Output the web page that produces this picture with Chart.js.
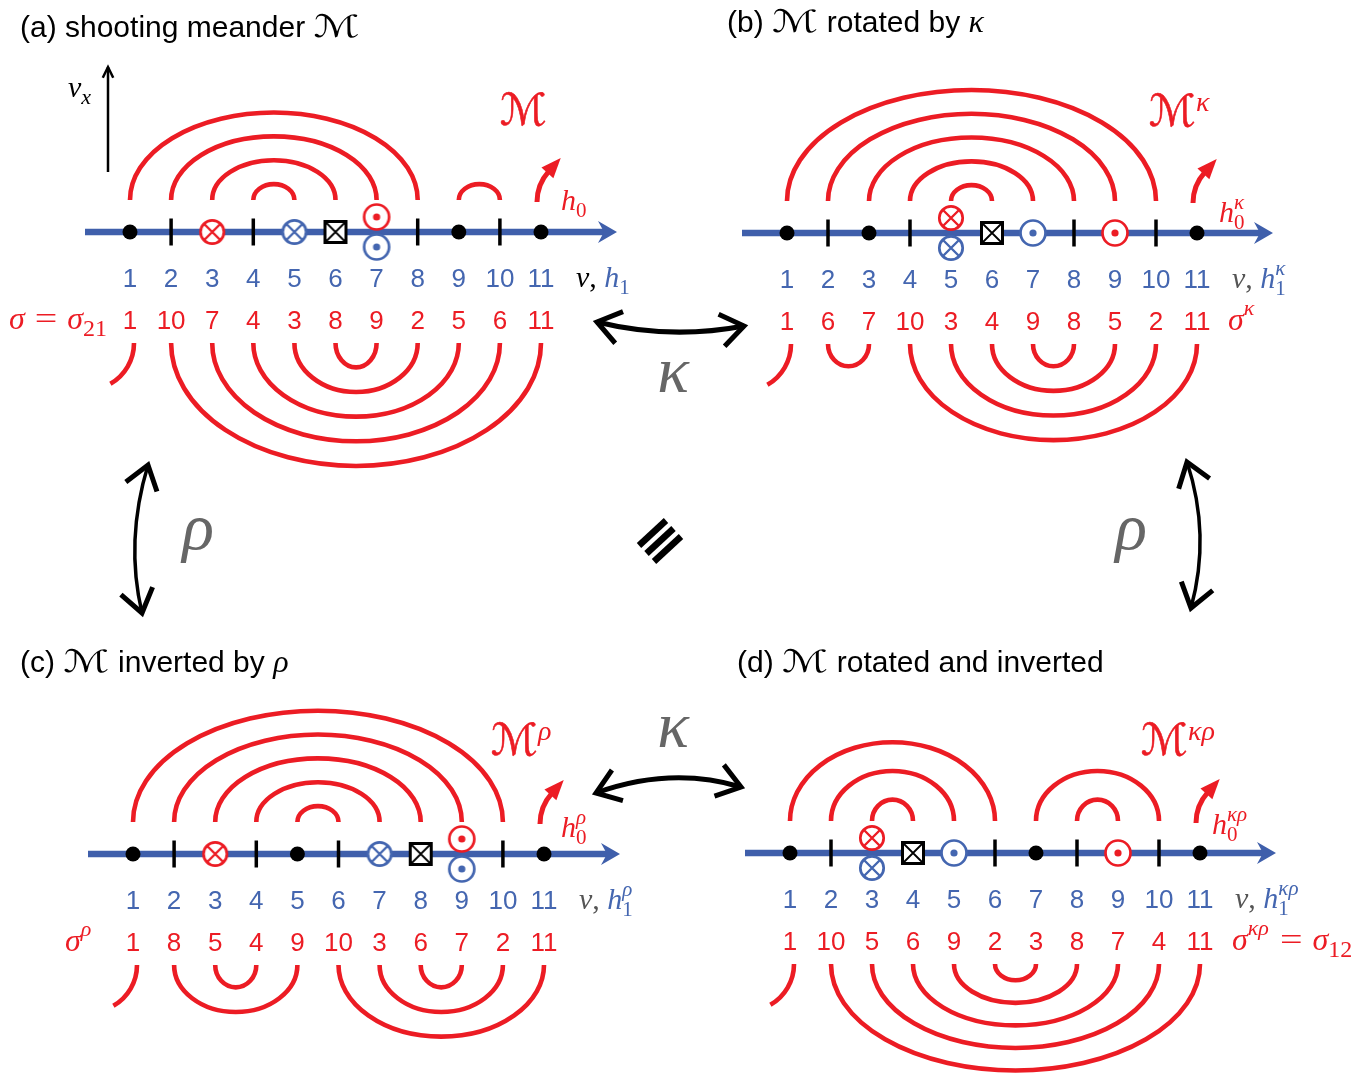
<!DOCTYPE html>
<html>
<head>
<meta charset="utf-8">
<script src="https://cdn.jsdelivr.net/npm/chart.js@4.4.1/dist/chart.umd.min.js"></script>
<style>
  html, body { margin: 0; padding: 0; background: #fff; }
  #wrap { width: 1364px; height: 1073px; }
</style>
</head>
<body>
<div id="wrap"><canvas id="meander" width="1364" height="1073"></canvas></div>
<script>
// ---- data: the four meanders (positions along the axis are 1..11) ----
const positions = [1, 2, 3, 4, 5, 6, 7, 8, 9, 10, 11];

const sigmaA = [1, 10, 7, 4, 3, 8, 9, 2, 5, 6, 11];
const sigmaB = [1, 6, 7, 10, 3, 4, 9, 8, 5, 2, 11];
const sigmaC = [1, 8, 5, 4, 9, 10, 3, 6, 7, 2, 11];
const sigmaD = [1, 10, 5, 6, 9, 2, 3, 8, 7, 4, 11];

// arcs as pairs of positions, above and below the axis
const upperA = [[1, 8], [2, 7], [3, 6], [4, 5], [9, 10]];
const lowerA = [[2, 11], [3, 10], [4, 9], [5, 8], [6, 7]];
const upperB = [[1, 10], [2, 9], [3, 8], [4, 7], [5, 6]];
const lowerB = [[2, 3], [4, 11], [5, 10], [6, 9], [7, 8]];
const upperC = [[1, 10], [2, 9], [3, 8], [4, 7], [5, 6]];
const lowerC = [[2, 5], [3, 4], [6, 11], [7, 10], [8, 9]];
const upperD = [[1, 6], [2, 5], [3, 4], [7, 10], [8, 9]];
const lowerD = [[2, 11], [3, 10], [4, 9], [5, 8], [6, 7]];

// marker at each position; "a+b" = a above the axis, b below
const markersA = ['dot', 'tick', 'xr', 'tick', 'xb', 'box', 'or+ob', 'tick', 'dot', 'tick', 'dot'];
const markersB = ['dot', 'tick', 'dot', 'tick', 'xr+xb', 'box', 'ob', 'tick', 'or', 'tick', 'dot'];
const markersC = ['dot', 'tick', 'xr', 'tick', 'dot', 'tick', 'xb', 'box', 'or+ob', 'tick', 'dot'];
const markersD = ['dot', 'tick', 'xr+xb', 'box', 'ob', 'tick', 'dot', 'tick', 'or', 'tick', 'dot'];

// ---- styles ----
const RED = '#ec1c24', BLUE = '#4466b0', AXIS = '#3f5fab', GRAY = '#666666';

function fontOf(k, size) {
  if (k === 'sans') return size + 'px "Liberation Sans", Arial, sans-serif';
  if (k === 'i') return 'italic ' + size + 'px "Liberation Serif", "Times New Roman", serif';
  if (k === 'r') return size + 'px "Liberation Serif", "Times New Roman", serif';
  return 'italic ' + size + 'px "DejaVu Serif", "DejaVu Sans", serif'; // script M
}
const S = (t, s = 30, c = '#000') => ({ t, k: 'sans', s, c });
const M = (t, s, c = '#000', sx = 1, heavy = 0) => ({ t, k: 'm', s, c, sx, heavy });
const I = (t, c, s = 30) => ({ t, k: 'i', s, c });
const R = (t, c, s = 30) => ({ t, k: 'r', s, c });
const EQ = (c) => ({ t: ' = ', k: 'r', s: 32, c, sx: 1.25 });
const SS = (sub, sup, c, s = 21, subK = 'r') => ({ sub, sup, s, c, subK });

// ---- layout of the four panels ----
const panels = [
  { x0: 130, dx: 41.1, y: 232, sigma: sigmaA, upper: upperA, lower: lowerA, markers: markersA,
    upK: [0.58, 4], lowK: [0.6, 12],
    title: { x: 20, y: 37, segs: [S('(a) shooting meander '), M('ℳ', 31, '#000', 1.4)] },
    mLabel: { x: 500, y: 125, segs: [M('ℳ', 44, RED, 1, 0.6)] },
    hLabel: { dx: 20, dy: -22, segs: [I('h', RED), SS('0', null, RED)] },
    vColor: '#000', hSup: null,
    sigmaLabel: { x: 9, align: 'left', segs: [I('σ', RED, 32), EQ(RED), I('σ', RED, 32), SS('21', null, RED, 24)] },
    vx: true },
  { x0: 787, dx: 41.0, y: 233, sigma: sigmaB, upper: upperB, lower: lowerB, markers: markersB,
    upK: [0.58, 4], lowK: [0.6, 10],
    title: { x: 727, y: 32, segs: [S('(b) '), M('ℳ', 31, '#000', 1.4), S(' rotated by '), I('κ', '#000', 32)] },
    mLabel: { x: 1149, y: 126, segs: [M('ℳ', 44, RED, 1, 0.6), SS(null, 'κ', RED, 28)] },
    hLabel: { dx: 22, dy: -11, segs: [I('h', RED), SS('0', 'κ', RED)] },
    vColor: '#555', hSup: 'κ',
    sigmaLabel: { dx: 31, align: 'left', segs: [I('σ', RED, 32), SS(null, 'κ', RED, 22)] } },
  { x0: 133, dx: 41.1, y: 854, sigma: sigmaC, upper: upperC, lower: lowerC, markers: markersC,
    upK: [0.58, 4], lowK: [0.6, 10],
    title: { x: 20, y: 672, segs: [S('(c) '), M('ℳ', 31, '#000', 1.4), S(' inverted by '), I('ρ', '#000', 32)] },
    mLabel: { x: 491, y: 755, segs: [M('ℳ', 44, RED, 1, 0.6), SS(null, 'ρ', RED, 28)] },
    hLabel: { dx: 17, dy: -17, segs: [I('h', RED), SS('0', 'ρ', RED)] },
    vColor: '#555', hSup: 'ρ',
    sigmaLabel: { x: 65, align: 'left', segs: [I('σ', RED, 32), SS(null, 'ρ', RED, 22)] } },
  { x0: 790, dx: 41.0, y: 853, sigma: sigmaD, upper: upperD, lower: lowerD, markers: markersD,
    upK: [0.7, 7], lowK: [0.55, 5],
    title: { x: 737, y: 672, segs: [S('(d) '), M('ℳ', 31, '#000', 1.4), S(' rotated and inverted')] },
    mLabel: { x: 1141, y: 755, segs: [M('ℳ', 44, RED, 1, 0.6), SS(null, 'κρ', RED, 28)] },
    hLabel: { dx: 12, dy: -19, segs: [I('h', RED), SS('0', 'κρ', RED)] },
    vColor: '#555', hSup: 'κρ',
    sigmaLabel: { dx: 32, align: 'left', segs: [I('σ', RED, 32), SS(null, 'κρ', RED, 22), EQ(RED), I('σ', RED, 32), SS('12', null, RED, 24)] } }
];

// connecting double arrows (start, control, end) and their greek labels
const links = [
  { from: [597, 322], via: [670, 340], to: [744, 326], w: 5 },
  { from: [596, 793], via: [671, 766], to: [741, 787], w: 5 },
  { from: [148, 465], via: [125, 541], to: [142, 613], w: 3.5 },
  { from: [1187, 462], via: [1211, 535], to: [1191, 608], w: 3.5 }
];
const greek = [
  { t: 'κ', x: 673, y: 392 }, { t: 'κ', x: 673, y: 747 },
  { t: 'ρ', x: 198, y: 549 }, { t: 'ρ', x: 1131, y: 549 }
];

const UP_GAP = 32, LOW_GAP = 111, STACK = 15;

// ---- marker glyphs used as point styles ----
function glyph(kind) {
  const c = document.createElement('canvas');
  c.width = 34; c.height = 34;
  const g = c.getContext('2d');
  g.translate(17, 17);
  g.fillStyle = '#fff';
  if (kind === 'box') {
    g.fillRect(-10.5, -10.5, 21, 21);
    g.strokeStyle = '#000'; g.lineWidth = 3;
    g.strokeRect(-10.5, -10.5, 21, 21);
    g.lineWidth = 1.8;
    g.beginPath(); g.moveTo(-9.5, -9.5); g.lineTo(9.5, 9.5); g.moveTo(9.5, -9.5); g.lineTo(-9.5, 9.5); g.stroke();
    return c;
  }
  const col = kind[1] === 'r' ? RED : BLUE;
  const r = kind[0] === 'x' ? 11.7 : 12.5;
  g.beginPath(); g.arc(0, 0, r, 0, Math.PI * 2); g.fill();
  g.strokeStyle = col; g.lineWidth = 2.7; g.stroke();
  if (kind[0] === 'x') {
    const d = r * 0.707;
    g.lineWidth = 2.4;
    g.beginPath(); g.moveTo(-d, -d); g.lineTo(d, d); g.moveTo(d, -d); g.lineTo(-d, d); g.stroke();
  } else {
    g.fillStyle = col;
    g.beginPath(); g.arc(0, 0, 3.6, 0, Math.PI * 2); g.fill();
  }
  return c;
}

const pointsByKind = { dot: [], tick: [], xr: [], xb: [], or: [], ob: [], box: [] };
panels.forEach(p => {
  p.markers.forEach((code, i) => {
    const x = p.x0 + (positions[i] - 1) * p.dx;
    const parts = code.split('+');
    if (parts.length === 2) {
      pointsByKind[parts[0]].push({ x, y: p.y - STACK });
      pointsByKind[parts[1]].push({ x, y: p.y + STACK });
    } else {
      pointsByKind[code].push({ x, y: p.y });
    }
  });
});

const datasets = [
  { label: 'xr', data: pointsByKind.xr, pointStyle: glyph('xr') },
  { label: 'xb', data: pointsByKind.xb, pointStyle: glyph('xb') },
  { label: 'or', data: pointsByKind.or, pointStyle: glyph('or') },
  { label: 'ob', data: pointsByKind.ob, pointStyle: glyph('ob') },
  { label: 'box', data: pointsByKind.box, pointStyle: glyph('box') },
  { label: 'dot', data: pointsByKind.dot, pointStyle: 'circle', pointRadius: 7.5,
    backgroundColor: '#000', borderWidth: 0 },
  { label: 'tick', data: pointsByKind.tick, pointStyle: 'line', rotation: 90, pointRadius: 13.5,
    borderColor: '#000', borderWidth: 3.5 }
];

// ---- rich text with sub / superscripts ----
function segWidth(ctx, g) {
  if (g.t !== undefined) { ctx.font = fontOf(g.k, g.s); return ctx.measureText(g.t).width * (g.sx || 1); }
  let w = 0;
  if (g.sup) { ctx.font = fontOf('i', g.s); w = Math.max(w, ctx.measureText(g.sup).width); }
  if (g.sub) { ctx.font = fontOf(g.subK, g.s); w = Math.max(w, ctx.measureText(g.sub).width); }
  return w + 1;
}
function drawRich(ctx, x, y, segs, align) {
  const total = segs.reduce((a, g) => a + segWidth(ctx, g), 0);
  let cx = align === 'right' ? x - total : x;
  ctx.textAlign = 'left';
  ctx.textBaseline = 'alphabetic';
  segs.forEach(g => {
    const w = segWidth(ctx, g);
    ctx.fillStyle = g.c;
    if (g.t !== undefined) {
      ctx.font = fontOf(g.k, g.s);
      ctx.save();
      ctx.translate(cx, y);
      ctx.scale(g.sx || 1, 1);
      ctx.fillText(g.t, 0, 0);
      if (g.heavy) { ctx.strokeStyle = g.c; ctx.lineWidth = g.heavy; ctx.strokeText(g.t, 0, 0); }
      ctx.restore();
    } else {
      if (g.sup) { ctx.font = fontOf('i', g.s); ctx.fillText(g.sup, cx, y - (g.sub ? 13 : 15)); }
      if (g.sub) { ctx.font = fontOf(g.subK, g.s); ctx.fillText(g.sub, cx, y + 7); }
    }
    cx += w;
  });
}

function chevron(ctx, tip, dir, len, ang) {
  const a = Math.atan2(dir[1], dir[0]);
  ctx.beginPath();
  ctx.moveTo(tip[0] - len * Math.cos(a - ang), tip[1] - len * Math.sin(a - ang));
  ctx.lineTo(tip[0], tip[1]);
  ctx.lineTo(tip[0] - len * Math.cos(a + ang), tip[1] - len * Math.sin(a + ang));
  ctx.stroke();
}

const meanderPlugin = {
  id: 'meander',
  beforeDatasetsDraw(chart) {
    const ctx = chart.ctx, xs = chart.scales.x, ys = chart.scales.y;
    const X = v => xs.getPixelForValue(v), Y = v => ys.getPixelForValue(v);
    ctx.save();
    ctx.lineCap = 'butt';

    panels.forEach(p => {
      const px = pos => X(p.x0 + (pos - 1) * p.dx);
      const ay = Y(p.y);
      const upBase = ay - UP_GAP, lowBase = ay + LOW_GAP;

      // axis with arrowhead
      const xa = X(p.x0 - 45), xe = X(p.x0 + 10 * p.dx + 76);
      ctx.strokeStyle = AXIS; ctx.fillStyle = AXIS; ctx.lineWidth = 6.5;
      ctx.beginPath(); ctx.moveTo(xa, ay); ctx.lineTo(xe - 10, ay); ctx.stroke();
      ctx.beginPath();
      ctx.moveTo(xe, ay); ctx.lineTo(xe - 19, ay - 11); ctx.lineTo(xe - 13, ay);
      ctx.lineTo(xe - 19, ay + 11); ctx.closePath(); ctx.fill();

      // arcs
      ctx.strokeStyle = RED; ctx.lineWidth = 4.6;
      p.upper.forEach(([a, b]) => {
        const rx = (px(b) - px(a)) / 2, ry = p.upK[0] * rx + p.upK[1];
        ctx.beginPath(); ctx.ellipse((px(a) + px(b)) / 2, upBase, rx, ry, 0, Math.PI, 2 * Math.PI); ctx.stroke();
      });
      p.lower.forEach(([a, b]) => {
        const rx = (px(b) - px(a)) / 2, ry = p.lowK[0] * rx + p.lowK[1];
        ctx.beginPath(); ctx.ellipse((px(a) + px(b)) / 2, lowBase, rx, ry, 0, 0, Math.PI); ctx.stroke();
      });
      // open end at position 1 going to -infinity
      const tx = px(positions[0]) + 4;
      ctx.beginPath(); ctx.arc(tx - 47, lowBase, 47, 0, 1.05); ctx.stroke();

      // shooting end h0 at position 11
      const hx = px(positions[positions.length - 1]) - 4, hr = 46, phi = 0.73;
      ctx.lineWidth = 5;
      ctx.beginPath(); ctx.arc(hx + hr, upBase + 2, hr, Math.PI, Math.PI + phi); ctx.stroke();
      const ex = hx + hr - hr * Math.cos(phi), ey = upBase + 2 - hr * Math.sin(phi);
      const ta = -(Math.PI / 2 - phi);
      const tip = [ex + 18 * Math.cos(ta), ey + 18 * Math.sin(ta)];
      ctx.fillStyle = RED;
      ctx.beginPath();
      ctx.moveTo(tip[0], tip[1]);
      ctx.lineTo(ex + 8 * Math.cos(ta + Math.PI / 2) - 2 * Math.cos(ta), ey + 8 * Math.sin(ta + Math.PI / 2) - 2 * Math.sin(ta));
      ctx.lineTo(ex - 8 * Math.cos(ta + Math.PI / 2) - 2 * Math.cos(ta), ey - 8 * Math.sin(ta + Math.PI / 2) - 2 * Math.sin(ta));
      ctx.closePath(); ctx.fill();

      // position numbers and sigma values
      ctx.textAlign = 'center'; ctx.textBaseline = 'alphabetic';
      ctx.font = fontOf('sans', 26);
      positions.forEach((pos, i) => {
        ctx.fillStyle = BLUE; ctx.fillText(String(pos), px(pos), ay + 55);
        ctx.fillStyle = RED; ctx.fillText(String(p.sigma[i]), px(pos), ay + 97);
      });

      const x11 = px(positions[positions.length - 1]);
      drawRich(ctx, x11 + 35, ay + 55,
        [I('v', p.vColor), R(', ', p.vColor), I('h', BLUE), SS('1', p.hSup, BLUE)], 'left');
      const sl = p.sigmaLabel;
      drawRich(ctx, sl.x !== undefined ? X(sl.x) : x11 + sl.dx, ay + 97, sl.segs, sl.align);
      drawRich(ctx, x11 + p.hLabel.dx, ay + p.hLabel.dy, p.hLabel.segs, 'left');
      drawRich(ctx, X(p.mLabel.x), Y(p.mLabel.y), p.mLabel.segs, 'left');
      drawRich(ctx, X(p.title.x), Y(p.title.y), p.title.segs, 'left');

      if (p.vx) {
        const vxX = X(108);
        ctx.strokeStyle = '#000'; ctx.lineWidth = 2.5;
        ctx.beginPath(); ctx.moveTo(vxX, Y(172)); ctx.lineTo(vxX, Y(67)); ctx.stroke();
        chevron(ctx, [vxX, Y(67)], [0, -1], 12, 0.45);
        drawRich(ctx, X(68), Y(97), [I('v', '#000'), SS('x', null, '#000', 22, 'i')], 'left');
      }
    });

    // connecting double arrows
    ctx.strokeStyle = '#000'; ctx.lineJoin = 'miter';
    links.forEach(l => {
      const P0 = [X(l.from[0]), Y(l.from[1])], C = [X(l.via[0]), Y(l.via[1])], P2 = [X(l.to[0]), Y(l.to[1])];
      ctx.lineWidth = l.w;
      ctx.beginPath(); ctx.moveTo(P0[0], P0[1]); ctx.quadraticCurveTo(C[0], C[1], P2[0], P2[1]); ctx.stroke();
      ctx.lineWidth = 5;
      chevron(ctx, P0, [P0[0] - C[0], P0[1] - C[1]], 28, 0.62);
      chevron(ctx, P2, [P2[0] - C[0], P2[1] - C[1]], 28, 0.62);
    });
    ctx.fillStyle = GRAY; ctx.textAlign = 'center';
    ctx.font = fontOf('i', 66);
    greek.forEach(g => ctx.fillText(g.t, X(g.x), Y(g.y)));

    // equivalence sign, three slanted strokes
    ctx.strokeStyle = '#000'; ctx.lineWidth = 6.5;
    [-1, 0, 1].forEach(k => {
      const cx = X(660 + k * 7.5), cy = Y(541 + k * 8);
      ctx.beginPath(); ctx.moveTo(cx - 13.5, cy + 12.5); ctx.lineTo(cx + 13.5, cy - 12.5); ctx.stroke();
    });
    ctx.restore();
  }
};

new Chart(document.getElementById('meander'), {
  type: 'scatter',
  data: { datasets },
  options: {
    responsive: false,
    animation: false,
    events: [],
    layout: { padding: 0, autoPadding: false },
    plugins: { legend: { display: false }, tooltip: { enabled: false } },
    scales: {
      x: { type: 'linear', min: 0, max: 1364, display: false },
      y: { type: 'linear', min: 0, max: 1073, reverse: true, display: false }
    }
  },
  plugins: [meanderPlugin]
});
</script>
</body>
</html>
